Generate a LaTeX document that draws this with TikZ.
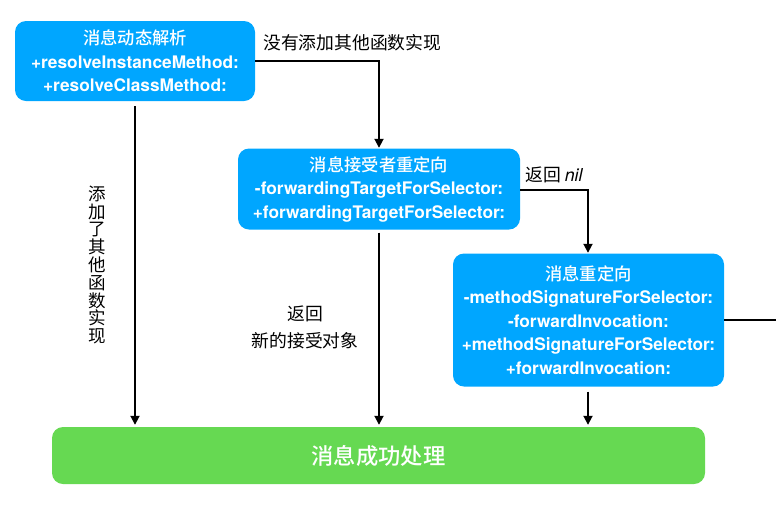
\documentclass[tikz,border=0pt]{standalone}
\usepackage{fontspec}
\setmainfont{TeX Gyre Heros}
\newfontfamily\cjk{Noto Sans CJK SC}
\newfontfamily\cjkm{Noto Sans CJK SC Medium}
\usetikzlibrary{arrows.meta}
\definecolor{boxblue}{RGB}{0,166,255}
\definecolor{boxgreen}{RGB}{102,217,82}
\tikzset{
  bluebox/.style={fill=boxblue, rounded corners=11pt, text=white, align=center, inner sep=0pt,
    font=\bfseries\fontsize{17.3}{23.5}\selectfont},
  conn/.style={line width=1.8pt, -{Triangle[length=9pt,width=9pt]}},
  plainconn/.style={line width=1.8pt},
  lbl/.style={font=\cjk\fontsize{17.8}{27}\selectfont, align=center, inner sep=0pt}
}
\begin{document}
\begin{tikzpicture}[x=1pt,y=-1pt]
\useasboundingbox (0,0) rectangle (776,507);
\node[bluebox, minimum width=240pt, minimum height=80pt] (b1) at (135,61)
  {{\cjkm\mdseries 消息动态解析}\\+resolveInstanceMethod:\\+resolveClassMethod:};
\node[bluebox, minimum width=282pt, minimum height=81pt] (b2) at (379,189)
  {{\cjkm\mdseries 消息接受者重定向}\\-forwardingTargetForSelector:\\+forwardingTargetForSelector:};
\node[bluebox, minimum width=271pt, minimum height=133pt] (b3) at (588.5,320)
  {{\cjkm\mdseries 消息重定向}\\-methodSignatureForSelector:\\-forwardInvocation:\\+methodSignatureForSelector:\\+forwardInvocation:};
\node[fill=boxgreen, rounded corners=11pt, minimum width=653pt, minimum height=57pt, inner sep=0pt,
  text=white, font=\cjkm\fontsize{22.3}{26}\selectfont] (g) at (378.5,455.5) {消息成功处理};

\coordinate (c1) at (379,61);
\coordinate (c2) at (588,190);
\coordinate (edge) at (776,320);

\draw[conn, shorten >=0.5pt] (b1.east |- c1) -- (c1) -- (b2.north);
\draw[conn, shorten <=5pt, shorten >=2pt] (b1.south) -- (b1.south |- g.north);
\draw[conn, shorten <=3pt, shorten >=2pt] (b2.south -| c1) -- (c1 |- g.north);
\draw[conn, shorten >=0.5pt] (b2.east |- c2) -- (c2) -- (c2 |- b3.north);
\draw[conn, shorten <=5pt, shorten >=2pt] (b3.south -| c2) -- (c2 |- g.north);
\draw[plainconn] (b3.east |- edge) -- (edge);

\node[lbl, anchor=west] (l1) at (263,43) {没有添加其他函数实现};
\node[lbl, anchor=west] (l2) at (525,175) {返回 {\normalfont\itshape\fontsize{17.8}{20}\selectfont nil}};
\node[lbl, font=\cjk\fontsize{17.5}{17.8}\selectfont] (l3) at (97,265) {添\\加\\了\\其\\他\\函\\数\\实\\现};
\node[lbl] (l4) at (305,327) {返回\\新的接受对象};
\end{tikzpicture}
\end{document}
